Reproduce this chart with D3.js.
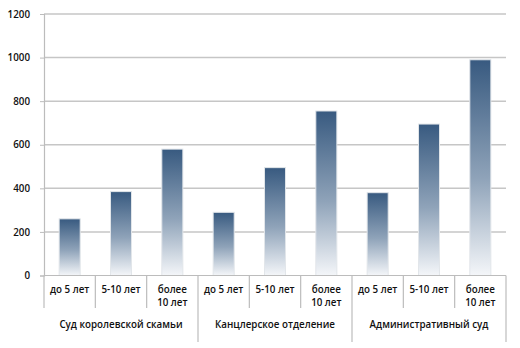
<!DOCTYPE html>
<html>
<head>
<meta charset="utf-8">
<script src="https://cdn.jsdelivr.net/npm/d3@7"></script>
<style>
  html, body { margin: 0; padding: 0; background: #fff; }
  svg { display: block; font-family: "Open Sans", "Noto Sans", sans-serif; }
  text { font-weight: 600; }
</style>
</head>
<body>
<svg id="chart" width="520" height="348"></svg>
<script>
// Court groups, each split into three term buckets
const groups = ["Суд королевской скамьи", "Канцлерское отделение", "Административный суд"];
const terms = ["до 5 лет", "5-10 лет", "более 10 лет"];
const termLines = [["до 5 лет"], ["5-10 лет"], ["более", "10 лет"]];
const values = [
  [260, 385, 580],
  [290, 495, 755],
  [380, 695, 990]
];
const yTicks = [0, 200, 400, 600, 800, 1000, 1200];

const svg = d3.select("#chart");
const plotLeft = 44, plotRight = 506, plotTop = 14, plotBottom = 275.5;
const fontSize = 9.8;
const textColor = "#111";

const rows = [];
groups.forEach((g, gi) => terms.forEach((t, ti) => rows.push({ g, gi, t, ti, key: gi + "|" + ti, v: values[gi][ti] })));

const x = d3.scaleBand().domain(rows.map(d => d.key)).range([plotLeft, plotRight]).paddingInner(0).paddingOuter(0);
const y = d3.scaleLinear().domain([0, 1200]).range([plotBottom, plotTop]);

// vertical gradient for bars
const defs = svg.append("defs");
const grad = defs.append("linearGradient").attr("id", "barGrad").attr("x1", 0).attr("y1", 0).attr("x2", 0).attr("y2", 1);
grad.append("stop").attr("offset", "0%").attr("stop-color", "#385a80");
grad.append("stop").attr("offset", "55%").attr("stop-color", "#8fa3b9");
grad.append("stop").attr("offset", "100%").attr("stop-color", "#f4f6f9");

// horizontal gridlines
svg.append("g").selectAll("line").data(yTicks.filter(d => d > 0)).join("line")
  .attr("x1", plotLeft).attr("x2", plotRight)
  .attr("y1", d => y(d)).attr("y2", d => y(d))
  .attr("stroke", "#c6c6c6").attr("stroke-width", 1.5);

// y axis
const yAxis = svg.append("g").attr("transform", `translate(${plotLeft},0)`)
  .call(d3.axisLeft(y).tickValues(yTicks).tickFormat(d3.format("d")).tickSize(4).tickPadding(10));
yAxis.select(".domain").attr("stroke", "#bcbcbc").attr("stroke-width", 1.2);
yAxis.selectAll(".tick line").attr("stroke", "#bcbcbc");
yAxis.selectAll("text").attr("font-size", fontSize).attr("fill", textColor)
  .attr("font-family", "'Open Sans', sans-serif");

// bars
const bw = x.bandwidth() * 0.41;
svg.append("g").selectAll("rect").data(rows).join("rect")
  .attr("x", d => x(d.key) + (x.bandwidth() - bw) / 2)
  .attr("y", d => y(d.v))
  .attr("width", bw)
  .attr("height", d => y(0) - y(d.v))
  .attr("fill", "url(#barGrad)")
  .attr("stroke", "#e2e6ea").attr("stroke-width", 1);

// x axis baseline
svg.append("line").attr("x1", plotLeft).attr("x2", plotRight).attr("y1", plotBottom).attr("y2", plotBottom)
  .attr("stroke", "#bcbcbc").attr("stroke-width", 1.2);

// category separators (short) and group separators (long)
const seps = d3.range(0, rows.length + 1);
svg.append("g").selectAll("line").data(seps).join("line")
  .attr("x1", i => i < rows.length ? x(rows[i].key) : plotRight)
  .attr("x2", i => i < rows.length ? x(rows[i].key) : plotRight)
  .attr("y1", plotBottom)
  .attr("y2", i => (i % 3 === 0 && i > 0) ? 342 : 308)
  .attr("stroke", "#bcbcbc").attr("stroke-width", 1.2);

// term labels
const termG = svg.append("g").attr("font-size", fontSize).attr("fill", textColor).attr("text-anchor", "middle");
rows.forEach(d => {
  const lines = termLines[d.ti];
  lines.forEach((ln, li) => {
    termG.append("text")
      .attr("x", x(d.key) + x.bandwidth() / 2)
      .attr("y", 290 + li * 13)
      .attr("dy", "0.35em")
      .text(ln);
  });
});

// group labels
svg.append("g").attr("font-size", fontSize).attr("fill", textColor).attr("text-anchor", "middle")
  .selectAll("text").data(groups).join("text")
  .attr("x", (g, gi) => (x(gi + "|0") + x(gi + "|2") + x.bandwidth()) / 2)
  .attr("y", 324.5).attr("dy", "0.35em")
  .text(g => g);
</script>
</body>
</html>
